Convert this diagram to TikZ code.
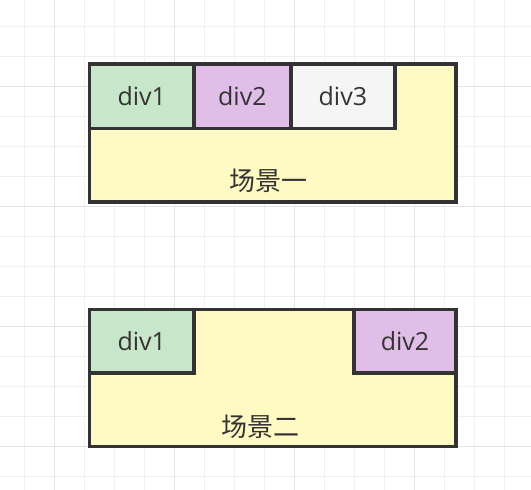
\documentclass[tikz,border=0pt]{standalone}
\usepackage{fontspec}
\setmainfont{Open Sans}
\newfontfamily\cjk{Noto Sans CJK SC}
\usetikzlibrary{positioning}
\definecolor{ink}{HTML}{333333}
\definecolor{gridminor}{HTML}{EFEFEF}
\definecolor{gridmajor}{HTML}{E4E4E4}
\definecolor{boxyellow}{HTML}{FFF9C4}
\definecolor{boxgreen}{HTML}{C8E6C9}
\definecolor{boxpurple}{HTML}{E1BEE7}
\definecolor{boxgray}{HTML}{F5F5F5}
\tikzstyle{scene} = [rectangle, anchor=north west,
minimum width=366.5pt,
inner sep=0pt, outer sep=0pt,
fill=boxyellow,
draw=ink, line width=3.8pt]
\tikzstyle{div} = [rectangle,
inner sep=0pt, outer sep=0pt,
text=ink, font=\fontsize{25}{30}\selectfont,
draw=ink, line width=3.6pt]
\tikzstyle{caption} = [inner sep=0pt, text=ink,
font=\cjk\fontsize{26}{30}\selectfont]

\begin{document}
\begin{tikzpicture}[x=1pt, y=-1pt]
        \useasboundingbox (0,0) rectangle (531,490);
        % background grid
        \foreach \x in {0,...,16} \draw [gridminor, line width=1pt] ({24.7+30*\x},0) -- ({24.7+30*\x},490);
        \foreach \y in {0,...,15} \draw [gridminor, line width=1pt] (0,{26+30*\y}) -- (531,{26+30*\y});
        \foreach \x in {54.7,174.7,294.7,414.7} \draw [gridmajor, line width=1pt] (\x,0) -- (\x,490);
        \foreach \y in {86,206,326,446} \draw [gridmajor, line width=1pt] (0,\y) -- (531,\y);

        \node (scene1) [scene, minimum height=138.3pt] at (89.5,63.7) {};
        \node (s1div1) [div, fill=boxgreen, anchor=north west, minimum width=104.5pt, minimum height=64.8pt] at (scene1.north west) {div1};
        \node (s1div2) [div, fill=boxpurple, minimum width=96.8pt, minimum height=64.8pt, right=0pt of s1div1] {div2};
        \node (s1div3) [div, fill=boxgray, minimum width=104.2pt, minimum height=64.8pt, right=0pt of s1div2] {div3};
        \node (label1) [caption] at (268.7,181) {场景一};

        \node (scene2) [scene, minimum height=137pt] at (89.5,309.5) {};
        \node (s2div1) [div, fill=boxgreen, anchor=north west, minimum width=104.5pt, minimum height=63.5pt] at (scene2.north west) {div1};
        \node (s2div2) [div, fill=boxpurple, anchor=north east, minimum width=102pt, minimum height=63.5pt] at (scene2.north east) {div2};
        \node (label2) [caption] at (260.3,426.3) {场景二};
    \end{tikzpicture}
\end{document}
